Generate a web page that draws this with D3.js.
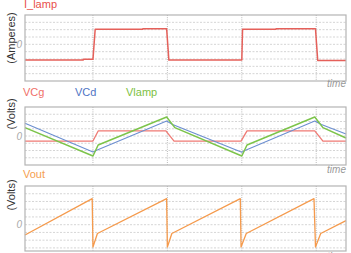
<!DOCTYPE html>
<html>
<head>
<meta charset="utf-8">
<script src="https://cdn.jsdelivr.net/npm/d3@7"></script>
<style>
body { margin: 0; background: #fff; }
svg { display: block; font-family: "Liberation Sans", Arial, sans-serif; }
</style>
</head>
<body>
<div id="chart"></div>
<script>
// time in half-periods, values in arbitrary units
let iLampT = [0.087, 0.87, 0.87, 1.0, 1.03, 1.67, 1.67, 1.99, 2.02, 3.0, 3.01, 3.46, 3.46, 3.99, 4.02, 4.4];
let iLampV = [-2.15, -2.15, -2.05, -2.05, 2.05, 2.05, 2.13, 2.13, -2.15, -2.15, 2.05, 2.05, 2.13, 2.13, -2.2, -2.2];

let vcgT = [0.087, 1.0, 1.07, 1.98, 2.09, 2.99, 3.07, 3.98, 4.09, 4.4];
let vcgV = [-0.7, -0.7, 0.7, 0.7, -0.7, -0.7, 0.7, 0.7, -0.7, -0.7];

let vcdT = [0.087, 1.0, 1.05, 1.99, 2.07, 3.0, 3.05, 3.98, 4.07, 4.4];
let vcdV = [1.75, -2.2, -1.95, 2.07, 1.6, -2.25, -1.95, 2.07, 1.6, 0.28];

let vlampT = [0.087, 1.0, 1.07, 1.99, 2.1, 3.0, 3.07, 3.98, 4.09, 4.4];
let vlampV = [1.15, -2.76, -1.24, 2.62, 1.15, -2.76, -1.24, 2.62, 1.15, -0.28];

let voutT = [0.087, 0.99, 1.0, 1.06, 1.99, 2.0, 2.06, 2.98, 2.99, 3.06, 3.97, 3.99, 4.06, 4.4];
let voutV = [-1.33, 3.36, -2.88, -1.14, 3.36, -2.88, -1.14, 3.36, -2.88, -1.14, 3.36, -2.88, -1.14, 0.52];

let timeGrid = [1, 2, 3, 4];

let width = 351;
let height = 253;

let svg = d3.select("#chart").append("svg")
  .attr("width", width).attr("height", height);

let x = d3.scaleLinear().domain([0.087, 4.4]).range([25, 346]);

function zip(t, v) { return t.map((d, i) => [d, v[i]]); }

function panel(top, bottom, domain, unitLabel, labelY, series, titles, timeY) {
  let y = d3.scaleLinear().domain(domain).range([bottom, top]);
  let g = svg.append("g");

  // horizontal dashed grid
  let hv = d3.range(Math.ceil(domain[0]), Math.floor(domain[1]) + 1)
    .filter(v => y(v) > top + 2 && y(v) < bottom - 2);
  g.selectAll(".hg").data(hv).enter().append("line")
    .attr("x1", x.range()[0]).attr("x2", x.range()[1])
    .attr("y1", d => y(d)).attr("y2", d => y(d))
    .style("stroke", "#cacaca").style("stroke-width", 0.8)
    .style("stroke-dasharray", "2,1.5");

  // vertical dotted grid
  g.selectAll(".vg").data(timeGrid).enter().append("line")
    .attr("x1", d => x(d)).attr("x2", d => x(d))
    .attr("y1", top).attr("y2", bottom)
    .style("stroke", "#a8a8a8").style("stroke-width", 0.8)
    .style("stroke-dasharray", "1,1.2");

  let line = d3.line().x(d => x(d[0])).y(d => y(d[1]));
  series.forEach(s => {
    g.append("path").datum(s.data).attr("d", line)
      .style("fill", "none").style("stroke", s.color)
      .style("stroke-width", s.w || 1.4).style("stroke-linejoin", "round");
  });

  g.append("rect")
    .attr("x", x.range()[0]).attr("y", top)
    .attr("width", x.range()[1] - x.range()[0]).attr("height", bottom - top)
    .style("fill", "none").style("stroke", "#b4b4b4").style("stroke-width", 1.2);

  g.append("text").attr("x", 22).attr("y", y(0) + 3.5)
    .attr("text-anchor", "end").text("0")
    .style("fill", "#aaa").style("font-style", "italic").style("font-size", "10px");

  g.append("text")
    .attr("transform", `translate(14.5,${labelY}) rotate(-90)`)
    .attr("text-anchor", "middle").text(unitLabel)
    .style("fill", "#333").style("font-size", "11px");

  titles.forEach(t => {
    g.append("text").attr("x", t.x).attr("y", t.y).text(t.text)
      .style("fill", t.color).style("font-size", "11px");
  });

  g.append("text").attr("x", 346).attr("y", timeY)
    .attr("text-anchor", "end").text("time")
    .style("fill", "#999").style("font-style", "italic").style("font-size", "10px");
}

panel(15, 81, [-5, 4], "(Amperes)", 38,
  [{ data: zip(iLampT, iLampV), color: "#e5605a", w: 1.5 }],
  [{ text: "I_lamp", x: 24, y: 8, color: "#e8504a" }], 87);

panel(107, 165, [-4, 4], "(Volts)", 114,
  [{ data: zip(vcgT, vcgV), color: "#ef7a74", w: 1.3 },
   { data: zip(vcdT, vcdV), color: "#6c8fd0", w: 1.1 },
   { data: zip(vlampT, vlampV), color: "#7cc44a", w: 1.5 }],
  [{ text: "VCg", x: 23, y: 96, color: "#ef6f68" },
   { text: "VCd", x: 75, y: 96, color: "#4f74c4" },
   { text: "Vlamp", x: 126, y: 96, color: "#7dc142" }], 173);

panel(186, 251, [-3.4, 5], "(Volts)", 195,
  [{ data: zip(voutT, voutV), color: "#f59a4c", w: 1.3 }],
  [{ text: "Vout", x: 23, y: 178, color: "#f5a050" }], 260);
</script>
</body>
</html>
